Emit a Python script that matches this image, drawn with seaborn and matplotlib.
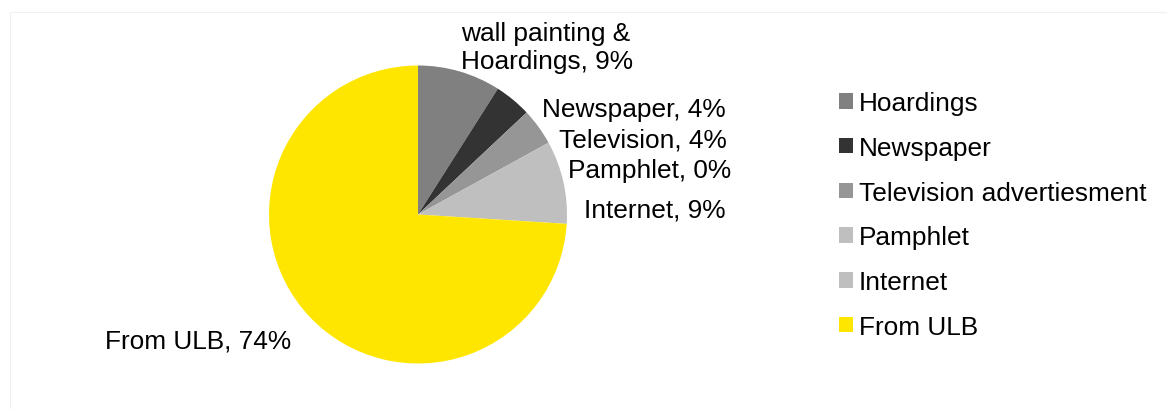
import matplotlib
matplotlib.use("Agg")
import matplotlib.pyplot as plt
import matplotlib.patches as mpatches
from matplotlib.lines import Line2D
import seaborn as sns

categories = ["Hoardings", "Newspaper", "Television advertiesment", "Pamphlet", "Internet", "From ULB"]
values = [9, 4, 4, 0, 9, 74]
slice_labels = ["wall painting &\nHoardings, 9%", "Newspaper, 4%", "Television, 4%",
                "Pamphlet, 0%", "Internet, 9%", "From ULB, 74%"]
colors = ["#808080", "#333333", "#969696", "#bfbfbf", "#bfbfbf", "#ffe600"]

sns.set_theme(style="white")
plt.rcParams['font.family'] = ['Liberation Sans', 'DejaVu Sans']
plt.rcParams['text.color'] = '#000000'

W, H = 1168, 410
fig = plt.figure(figsize=(W / 100, H / 100), dpi=100)

def fx(x):
    return x / W

def fy(y):
    return 1 - y / H

# faint outer frame
fig.add_artist(Line2D([fx(9.5), fx(1166)], [fy(12.5), fy(12.5)], color="#f0f0f0", lw=0.8))
fig.add_artist(Line2D([fx(9.5), fx(9.5)], [fy(12.5), fy(410)], color="#f0f0f0", lw=0.8))

cx, cy, r = 418, 215.5, 149
ax = fig.add_axes([fx(cx - r), fy(cy + r), 2 * r / W, 2 * r / H])
wedges, _ = ax.pie(values, colors=colors, startangle=90, counterclock=False,
                   wedgeprops=dict(linewidth=0))
ax.set_xlim(-1, 1)
ax.set_ylim(-1, 1)
ax.set_aspect("auto")
ax.axis("off")

fs = 18.9
tc = "#000000"
# slice labels
fig.text(fx(461), fy(48), slice_labels[0], fontsize=fs, ha="left", va="center",
         linespacing=1.17, color=tc)
fig.text(fx(726), fy(110), slice_labels[1], fontsize=fs, ha="right", va="center", color=tc)
fig.text(fx(727), fy(141), slice_labels[2], fontsize=fs, ha="right", va="center", color=tc)
fig.text(fx(731), fy(171), slice_labels[3], fontsize=fs, ha="right", va="center", color=tc)
fig.text(fx(726), fy(211), slice_labels[4], fontsize=fs, ha="right", va="center", color=tc)
fig.text(fx(291), fy(342), slice_labels[5], fontsize=fs, ha="right", va="center", color=tc)

handles = [mpatches.Patch(facecolor=c, edgecolor="none") for c in colors]
leg = fig.legend(handles, categories, loc="upper left",
                 bbox_to_anchor=(fx(834), fy(87)), frameon=False, fontsize=fs,
                 handlelength=0.53, handleheight=0.53, handletextpad=0.22,
                 labelspacing=0.79, borderpad=0.2, borderaxespad=0,
                 labelcolor=tc)

fig.savefig("out.png", dpi=100, facecolor="white")
